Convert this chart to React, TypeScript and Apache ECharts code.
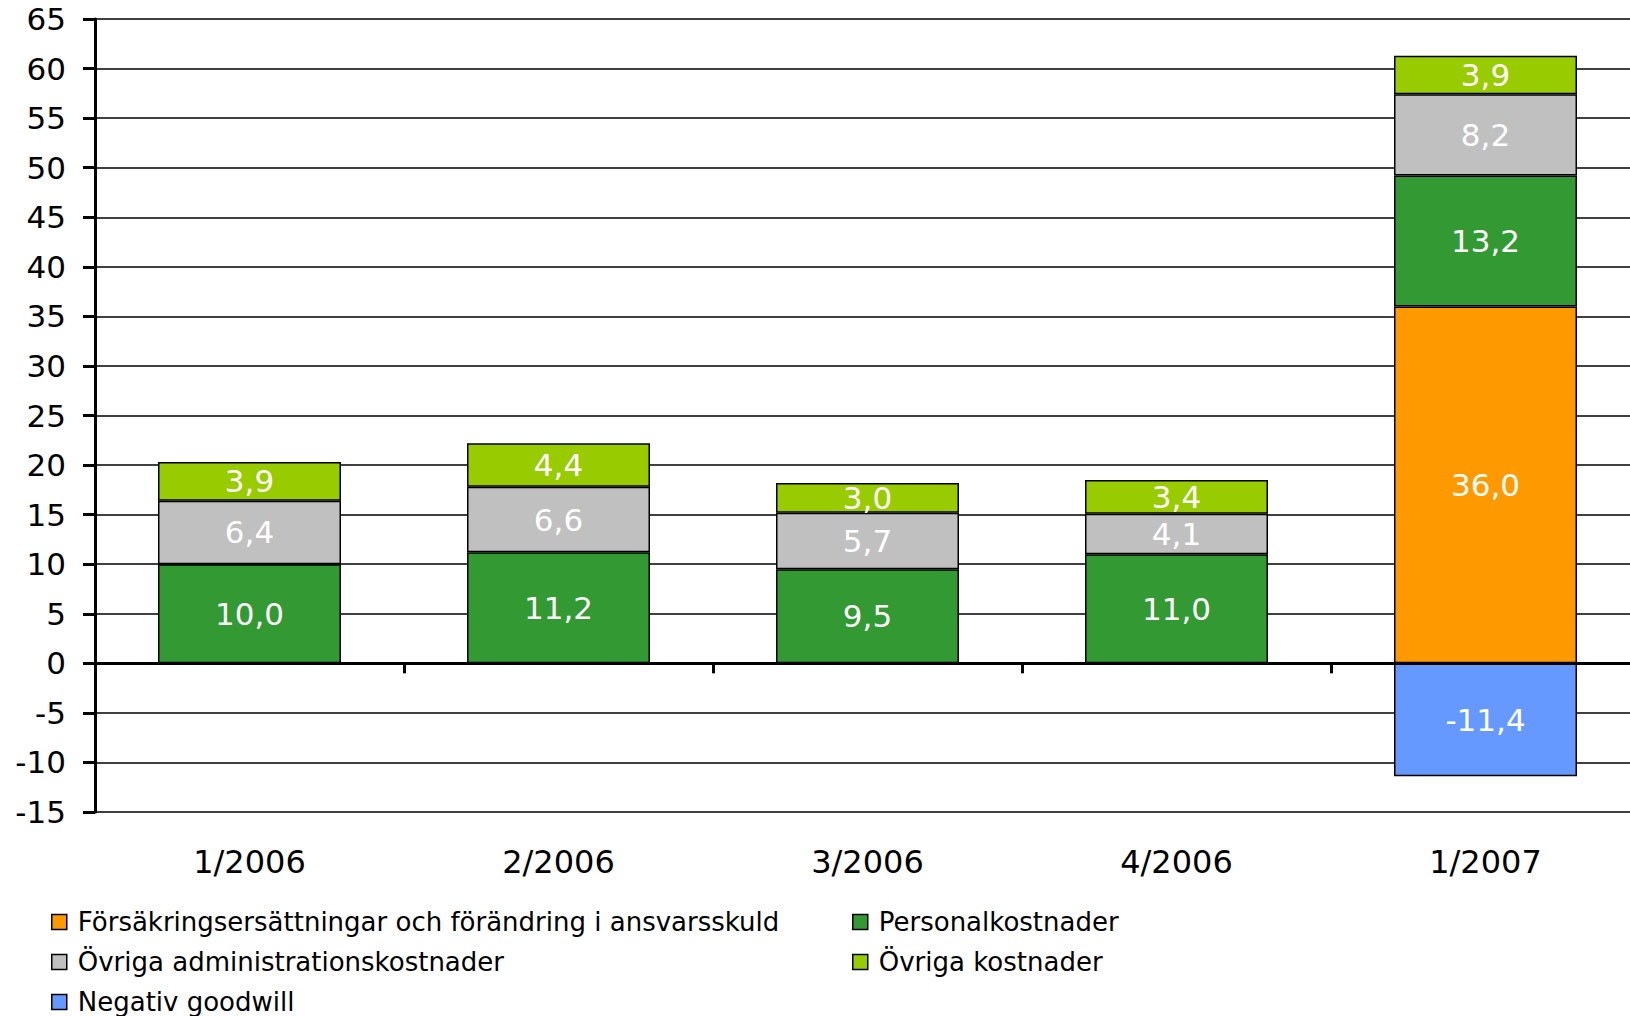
import React, { useEffect, useRef } from "react";
import * as echarts from "echarts";

const categories = ["1/2006", "2/2006", "3/2006", "4/2006", "1/2007"];
const forsakring = [null, null, null, null, 36.0];
const personal = [10.0, 11.2, 9.5, 11.0, 13.2];
const ovrigaAdmin = [6.4, 6.6, 5.7, 4.1, 8.2];
const ovrigaKost = [3.9, 4.4, 3.0, 3.4, 3.9];
const negGoodwill = [null, null, null, null, -11.4];

const names = [
  "Försäkringsersättningar och förändring i ansvarsskuld",
  "Personalkostnader",
  "Övriga administrationskostnader",
  "Övriga kostnader",
  "Negativ goodwill",
];
const colors = ["#FF9900", "#339933", "#C0C0C0", "#99CC00", "#6699FF"];
const FONT = "DejaVu Sans";

export default function App() {
  const ref = useRef<HTMLDivElement>(null);
  useEffect(() => {
    if (!ref.current) return;
    const chart = echarts.init(ref.current, null, { renderer: "svg" });
    const datasets = [forsakring, personal, ovrigaAdmin, ovrigaKost, negGoodwill];
    const series = datasets.map((d, i) => ({
      name: names[i],
      type: "bar",
      stack: "total",
      data: d,
      barWidth: 183,
      itemStyle: { color: colors[i], borderColor: "#000", borderWidth: 1.5 },
      label: {
        show: true,
        position: "inside",
        color: "#fff",
        fontFamily: FONT,
        fontSize: 31,
        formatter: (p: any) =>
          p.value == null ? "" : Number(p.value).toFixed(1).replace(".", ","),
      },
    }));
    const legendCommon = {
      orient: "vertical",
      top: 904,
      icon: "rect",
      itemWidth: 15,
      itemHeight: 15,
      itemGap: 14,
      textStyle: { fontFamily: FONT, fontSize: 26, color: "#000", padding: [0, 0, 0, 6] },
      itemStyle: { borderColor: "#000", borderWidth: 1.5 },
    };
    chart.setOption({
      animation: false,
      backgroundColor: "#fff",
      grid: { left: 95, right: 0, top: 19, bottom: 288, containLabel: false },
      legend: [
        { ...legendCommon, left: 46, data: [names[0], names[2], names[4]] },
        { ...legendCommon, left: 847, data: [names[1], names[3]] },
      ],
      xAxis: [
        {
          type: "category",
          data: categories,
          position: "bottom",
          z: 5,
          axisLine: { onZero: true, lineStyle: { color: "#000", width: 3 } },
          axisTick: { show: true, length: 10, lineStyle: { color: "#000", width: 3 } },
          axisLabel: { show: false },
          splitLine: { show: false },
        },
        {
          type: "category",
          data: categories,
          position: "bottom",
          axisLine: { show: false, onZero: false },
          axisTick: { show: false },
          axisLabel: { show: true, margin: 34, fontFamily: FONT, fontSize: 32, color: "#000" },
          splitLine: { show: false },
        },
      ],
      yAxis: {
        type: "value",
        min: -15,
        max: 65,
        interval: 5,
        axisLine: { show: true, lineStyle: { color: "#000", width: 3 } },
        axisTick: { show: true, length: 12, lineStyle: { color: "#000", width: 3 } },
        axisLabel: { margin: 29, fontFamily: FONT, fontSize: 31, color: "#000" },
        splitLine: { show: true, lineStyle: { color: "#000", width: 1.5 } },
      },
      series,
    });
    return () => chart.dispose();
  }, []);
  return (
    <div
      ref={ref}
      style={{ position: "fixed", left: 0, top: 0, width: 1640, height: 1100, background: "#fff" }}
    />
  );
}
